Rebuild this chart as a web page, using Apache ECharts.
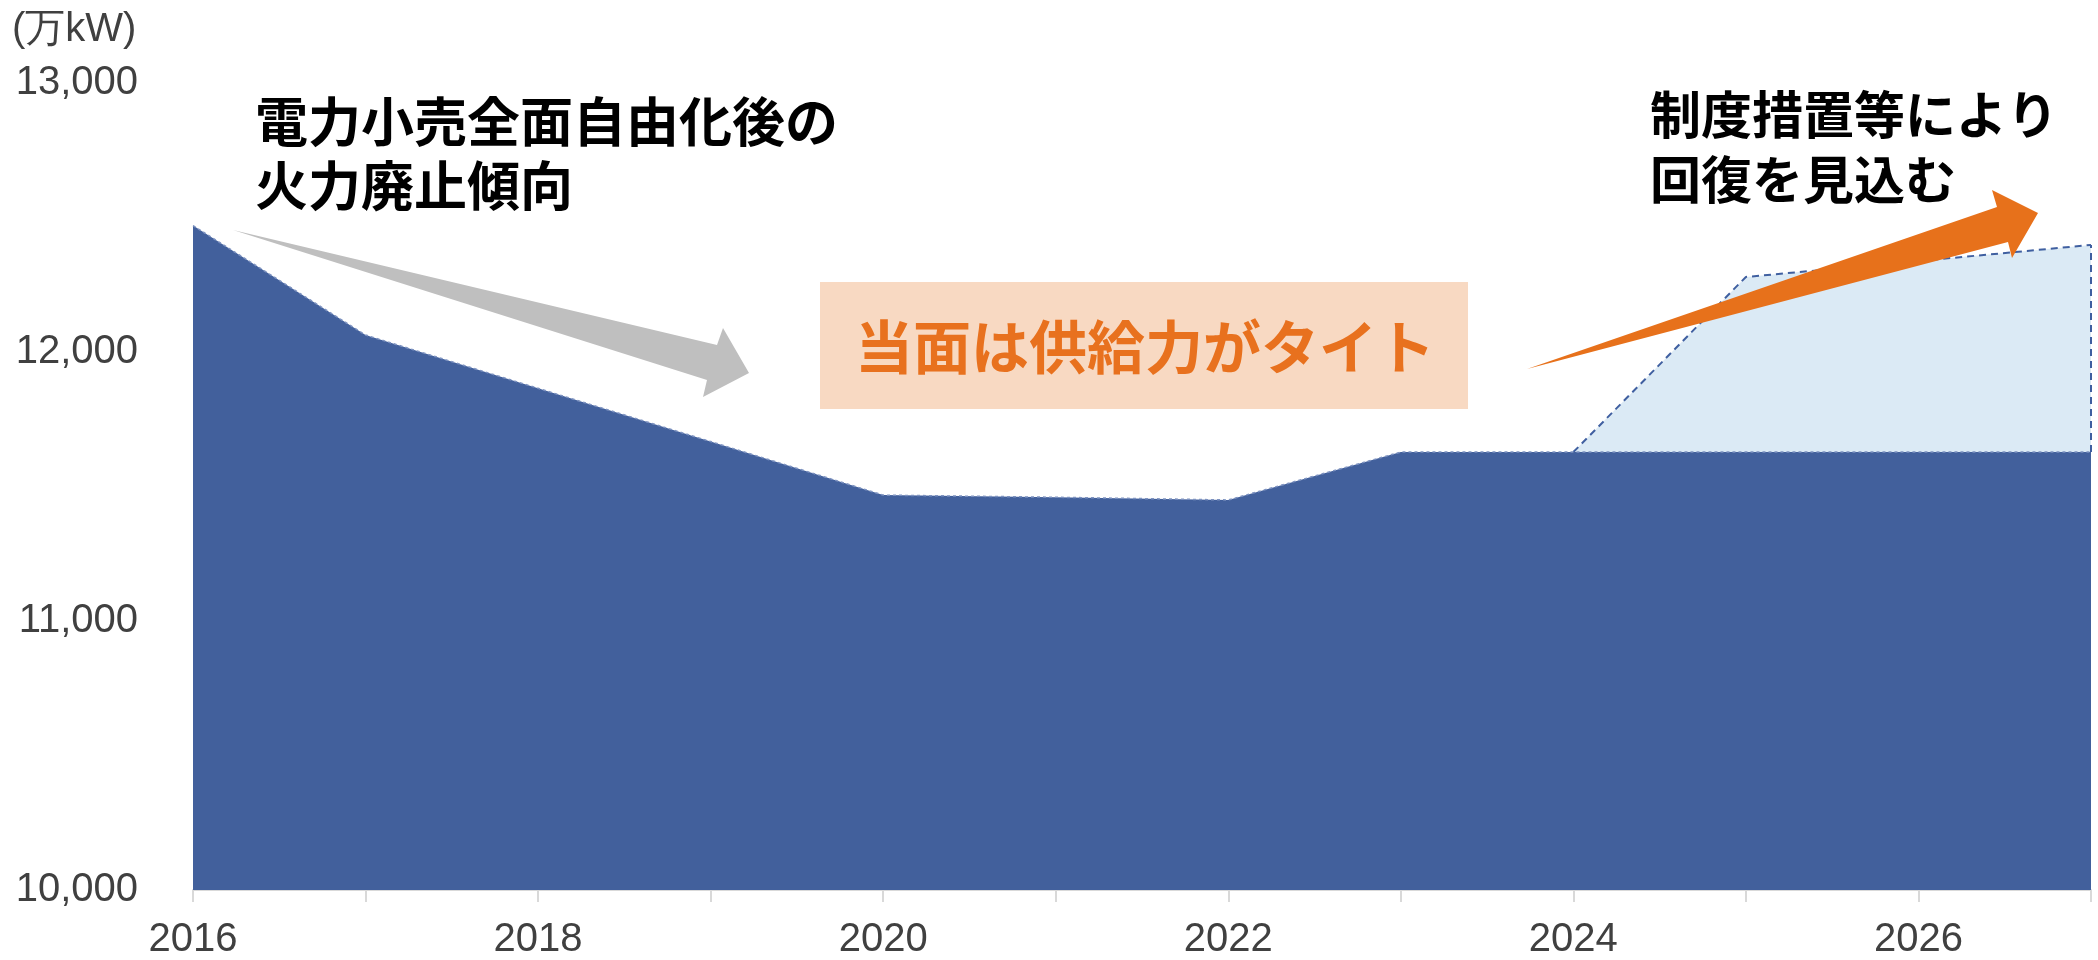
<!DOCTYPE html>
<html>
<head>
<meta charset="utf-8">
<script src="https://cdn.jsdelivr.net/npm/echarts@6/dist/echarts.min.js"></script>
<style>
html,body{margin:0;padding:0;background:#fff;}
#chart{width:2098px;height:960px;}
</style>
</head>
<body>
<div id="chart"></div>
<script>
// ---- data ----
const years = [2016, 2017, 2018, 2019, 2020, 2021, 2022, 2023, 2024, 2025, 2026, 2027];
const supply = [12470, 12063, 11865, 11667, 11468, 11460, 11450, 11628, 11628, 11628, 11628, 11628];
const recoveryYears = [2024, 2025, 2026, 2027];
const recovery = [11628, 12279, 12338, 12398];
const xTickLabels = ['2016', '2018', '2020', '2022', '2024', '2026'];
const yTickLabels = ['10,000', '11,000', '12,000', '13,000'];
const yValues = [10000, 11000, 12000, 13000];
const unitLabel = '(万kW)';
const leftNote = '電力小売全面自由化後の\n火力廃止傾向';
const rightNote = '制度措置等により\n回復を見込む';
const centerNote = '当面は供給力がタイト';

const chart = echarts.init(document.getElementById('chart'));
const axisFont = '"Liberation Sans", Arial, sans-serif';
const jpFont = '"Noto Sans CJK JP", "Noto Sans", sans-serif';

const option = {
  animation: false,
  backgroundColor: '#ffffff',
  grid: { left: 193, right: 7, top: 83, bottom: 70 },
  xAxis: {
    type: 'value',
    min: years[0],
    max: years[years.length - 1],
    interval: 1,
    splitLine: { show: false },
    axisLine: { show: true, lineStyle: { color: '#d9d9d9', width: 2 } },
    axisTick: { show: true, length: 12, lineStyle: { color: '#d9d9d9', width: 2 } },
    axisLabel: {
      margin: 30,
      fontSize: 40,
      fontFamily: axisFont,
      color: '#404040',
      formatter: function (v) {
        const s = String(v);
        return xTickLabels.indexOf(s) >= 0 ? s : '';
      }
    }
  },
  yAxis: {
    type: 'value',
    min: yValues[0],
    max: yValues[yValues.length - 1],
    interval: 1000,
    splitLine: { show: false },
    axisLine: { show: false },
    axisTick: { show: false },
    axisLabel: {
      margin: 55,
      fontSize: 40,
      fontFamily: axisFont,
      color: '#404040',
      formatter: function (v) {
        const i = yValues.indexOf(v);
        return i >= 0 ? yTickLabels[i] : '';
      }
    }
  },
  series: [
    {
      name: 'recovery',
      type: 'line',
      z: 1,
      symbol: 'none',
      data: recoveryYears.map((x, i) => [x, recovery[i]]),
      lineStyle: { color: '#3f5fa0', width: 2, type: [7, 5] },
      areaStyle: { color: '#dbeaf5', opacity: 1 },
      markLine: {
        silent: true,
        symbol: 'none',
        label: { show: false },
        lineStyle: { color: '#3f5fa0', width: 2, type: [7, 5] },
        data: [[
          { coord: [recoveryYears[recoveryYears.length - 1], supply[supply.length - 1]] },
          { coord: [recoveryYears[recoveryYears.length - 1], recovery[recovery.length - 1]] }
        ]]
      }
    },
    {
      name: 'supply',
      type: 'line',
      z: 2,
      symbol: 'none',
      data: years.map((x, i) => [x, supply[i]]),
      lineStyle: { color: '#7d92c0', width: 1.5, type: [3, 3] },
      areaStyle: { color: '#42609c', opacity: 1 }
    }
  ],
  graphic: [
    {
      type: 'text', left: 12, top: 10, z: 10,
      style: { text: unitLabel, font: '40px ' + axisFont, fill: '#404040' }
    },
    {
      type: 'text', left: 255, top: 90, z: 10,
      style: { text: leftNote, font: 'bold 53px ' + jpFont, fill: '#000000', lineHeight: 64 }
    },
    {
      type: 'text', left: 1650, top: 82, z: 10,
      style: { text: rightNote, font: 'bold 51px ' + jpFont, fill: '#000000', lineHeight: 65 }
    },
    {
      type: 'rect', z: 10,
      shape: { x: 820, y: 282, width: 648, height: 127 },
      style: { fill: '#f8d9c2' }
    },
    {
      type: 'text', z: 11, x: 1145, y: 347,
      style: { text: centerNote, font: 'bold 58px ' + jpFont, fill: '#e8711e', align: 'center', verticalAlign: 'middle' }
    },
    {
      type: 'polygon', z: 10,
      shape: { points: [[233, 230], [717, 345], [723, 328], [749, 373], [703, 397], [707, 380]] },
      style: { fill: '#bfbfbf' }
    },
    {
      type: 'polygon', z: 10,
      shape: { points: [[1527, 369], [1997, 207], [1992, 190], [2038, 213], [2012, 258], [2008, 242]] },
      style: { fill: '#e7711b' }
    }
  ]
};
chart.setOption(option);
</script>
</body>
</html>
